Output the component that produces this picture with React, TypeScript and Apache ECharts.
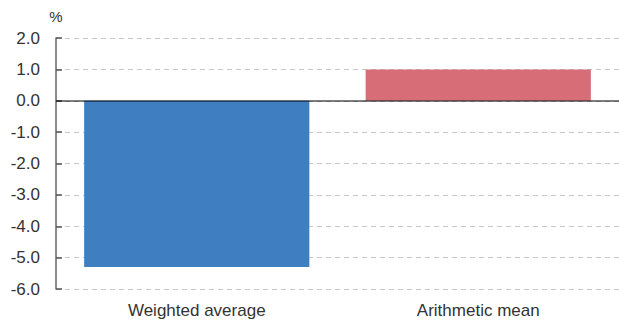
import React, { useEffect, useRef } from "react";
import * as echarts from "echarts";

const categories = ["Weighted average", "Arithmetic mean"];
const values = [-5.3, 1.0];
const barColors = ["#3F7FC1", "#D66D77"];
const yMin = -6;
const yMax = 2;
const yStep = 1;

export default function App() {
  const ref = useRef<HTMLDivElement>(null);

  useEffect(() => {
    document.body.style.margin = "0";
    if (!ref.current) return;
    const chart = echarts.init(ref.current, null, { renderer: "svg" });
    const font = "'Liberation Sans', Arial, Helvetica, sans-serif";
    chart.setOption({
      animation: false,
      grid: { left: 56, right: 0, top: 38, bottom: 34, containLabel: false },
      xAxis: {
        type: "category",
        data: categories,
        axisLine: { show: false },
        axisTick: { show: false },
        axisLabel: { color: "#333", fontSize: 17, fontFamily: font, margin: 13 },
      },
      yAxis: {
        type: "value",
        min: yMin,
        max: yMax,
        interval: yStep,
        name: "%",
        nameLocation: "end",
        nameGap: 14,
        nameTextStyle: { color: "#333", fontSize: 15, fontFamily: font, align: "center" },
        axisLine: { show: true, lineStyle: { color: "#666", width: 1.5 } },
        axisTick: { show: true, inside: true, length: 6, lineStyle: { color: "#555", width: 1.5 } },
        axisLabel: {
          color: "#333",
          fontSize: 17,
          fontFamily: font,
          margin: 16,
          formatter: (v: number) => v.toFixed(1),
        },
        splitLine: { show: true, lineStyle: { color: "#c8c8c8", type: [5, 4] } },
      },
      series: [
        {
          type: "bar",
          barWidth: "80%",
          data: values.map((v, i) => ({ value: v, itemStyle: { color: barColors[i] } })),
          markLine: {
            silent: true,
            symbol: "none",
            label: { show: false },
            lineStyle: { color: "rgba(0,0,0,0.5)", type: "solid", width: 2, opacity: 1 },
            data: [{ yAxis: 0 }],
          },
        },
      ],
    });
    return () => chart.dispose();
  }, []);

  return <div ref={ref} style={{ width: 619, height: 323 }} />;
}
